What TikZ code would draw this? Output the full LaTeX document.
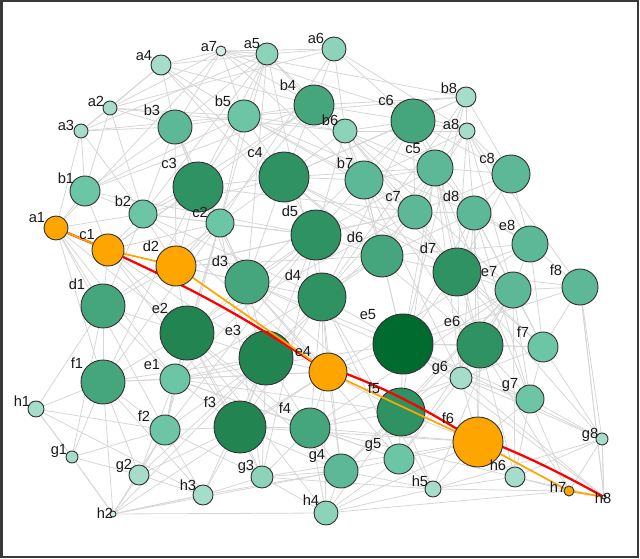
\documentclass[tikz,border=0pt]{standalone}
\usepackage{fontspec}
\setmainfont{Liberation Sans}
\pgfdeclarelayer{bg}
\pgfdeclarelayer{mid}
\pgfdeclarelayer{top}
\pgfsetlayers{bg,main,mid,top}
\definecolor{G1}{HTML}{CDEEE4}
\definecolor{G2}{HTML}{A6DCCA}
\definecolor{G3}{HTML}{8DD3B9}
\definecolor{G4}{HTML}{6CC5A5}
\definecolor{G5}{HTML}{5CB896}
\definecolor{G6}{HTML}{45A57C}
\definecolor{G7}{HTML}{2F9262}
\definecolor{G8}{HTML}{228551}
\definecolor{G9}{HTML}{006B2E}
\definecolor{OR}{HTML}{FFA500}
\definecolor{edgegray}{HTML}{D6D6D6}
\definecolor{framegray}{HTML}{383838}
\begin{document}
\begin{tikzpicture}[x=0.75pt,y=-0.75pt,
  vert/.style={circle,draw=black!80,line width=0.7pt,inner sep=0pt},
  edge/.style={draw=edgegray,line width=0.6pt},
  lab/.style={font=\fontsize{11}{13}\selectfont,text=black!90,inner sep=0pt},
  redpath/.style={draw=red,line width=1.7pt},
  orpath/.style={draw=OR,line width=1.3pt}]
\useasboundingbox (0,0) rectangle (640,559);
\draw[framegray,line width=1.5pt] (1.5,1.5) rectangle (638,557.5);
\def\nodelist{a1/56/228/12/OR/37/218, a2/110/108/7/G2/96/101, a3/81/131/7/G2/66/125,
 a4/161/65/10/G2/144/56, a5/267/54/11/G3/252/44, a6/334/49/12/G3/316/38,
 a7/221/51/5/G1/209/47, a8/467/131/8/G2/451/124,
 b1/85/191/15/G4/66/178, b2/143/214/14/G4/123/201, b3/175/127/17/G5/152/110,
 b4/314/105/20/G6/288/85, b5/244/116/16/G4/223/101, b6/345/131/12/G3/330/120,
 b7/364/180/19/G5/345/163, b8/466/97/10/G2/449/88,
 c1/108/250/16/OR/87/235, c2/220/223/14/G4/200/212, c3/198/187/25/G7/169/163,
 c4/284/177/25/G7/255/153, c5/435/168/18/G5/413/149, c6/413/121/22/G6/386/100,
 c7/415/212/17/G5/393/197, c8/511/174/19/G5/487/158,
 d1/103/306/22/G6/77/284, d2/176/266/20/OR/151/246, d3/247/282/22/G6/220/261,
 d4/322/297/24/G7/293/275, d5/316/235/25/G7/290/211, d6/382/256/21/G6/355/237,
 d7/457/272/24/G7/428/248, d8/474/213/17/G5/451/196,
 e1/175/379/15/G4/152/365, e2/187/333/27/G8/160/308, e3/266/358/27/G8/233/330,
 e4/328/372/19/OR/303/352, e5/403/344/30/G9/368/315, e6/480/345/23/G7/452/321,
 e7/513/290/18/G5/489/272, e8/530/244/18/G5/507/225,
 f1/103/382/22/G6/77/363, f2/165/430/15/G4/144/416, f3/240/427/26/G8/210/402,
 f4/310/428/20/G6/285/408, f5/401/412/24/G7/374/388, f6/478/442/25/OR/448/418,
 f7/543/347/15/G4/523/332, f8/580/287/18/G5/556/270,
 g1/72/457/6/G2/59/451, g2/139/475/10/G2/124/466, g3/262/477/11/G3/246/467,
 g4/341/471/17/G5/317/456, g5/399/459/15/G4/373/445, g6/461/378/11/G2/440/368,
 g7/530/399/14/G4/510/385, g8/602/439/6/G2/590/435,
 h1/36/409/8/G2/22/401, h2/113/514/3/G1/105/513, h3/203/495/10/G2/188/485,
 h4/326/513/12/G3/311/500, h5/433/489/8/G2/420/481, h6/515/477/10/G2/498/465,
 h7/569/491/5/OR/558/487, h8/604/497/2/G1/603/498}
\def\orname{OR}
% nodes
\foreach \n/\x/\y/\r/\c/\lx/\ly [count=\k] in \nodelist {
  \expandafter\xdef\csname NX\k\endcsname{\x}
  \expandafter\xdef\csname NY\k\endcsname{\y}
  \expandafter\xdef\csname NN\k\endcsname{\n}
  \edef\cc{\c}
  \ifx\cc\orname
    \begin{pgfonlayer}{top}
      \node[vert,fill=\c,minimum size=\r*1.5pt] (\n) at (\x,\y) {};
    \end{pgfonlayer}
  \else
    \node[vert,fill=\c,minimum size=\r*1.5pt] (\n) at (\x,\y) {};
  \fi
  \begin{pgfonlayer}{top}
    \node[lab] (lab-\n) at (\lx,\ly) {\n};
  \end{pgfonlayer}
}
% gray connectors
\begin{pgfonlayer}{bg}
\foreach \i in {1,...,63} {
  \pgfmathtruncatemacro\js{\i+1}
  \foreach \j in {\js,...,64} {
    \edef\xa{\csname NX\i\endcsname}\edef\ya{\csname NY\i\endcsname}
    \edef\xb{\csname NX\j\endcsname}\edef\yb{\csname NY\j\endcsname}
    \pgfmathsetmacro\dd{veclen(\xa-\xb,\ya-\yb)}
    \pgfmathtruncatemacro\hh{mod(\i*37+\j*53,17)}
    \pgfmathtruncatemacro\ok{or(\dd<112,and(\dd<260,\hh<4))}
    \ifnum\ok=1
      \edef\na{\csname NN\i\endcsname}\edef\nb{\csname NN\j\endcsname}
      \draw[edge] (\na) -- (\nb);
    \fi
  }
}
\draw[edge] (h2) -- (h4);
\draw[edge] (h2) -- (g1);
\draw[edge] (h2) -- (h3);
\draw[edge] (h1) -- (g1);
\draw[edge] (a7) -- (a5);
\draw[edge] (a7) -- (a6);
\draw[edge] (a2) -- (b5);
\draw[edge] (g8) -- (h8);
\draw[edge] (f8) -- (h8);
\end{pgfonlayer}
% paths
\begin{pgfonlayer}{mid}
\draw[redpath] (a1) -- (c1) to[bend left=4] (e4) to[bend left=6] (f6) to[bend left=4] (h8);
\draw[orpath] (a1) -- (c1) -- (d2) -- (e4) -- (f6) -- (h7) -- (h8);
\end{pgfonlayer}
\end{tikzpicture}
\end{document}
